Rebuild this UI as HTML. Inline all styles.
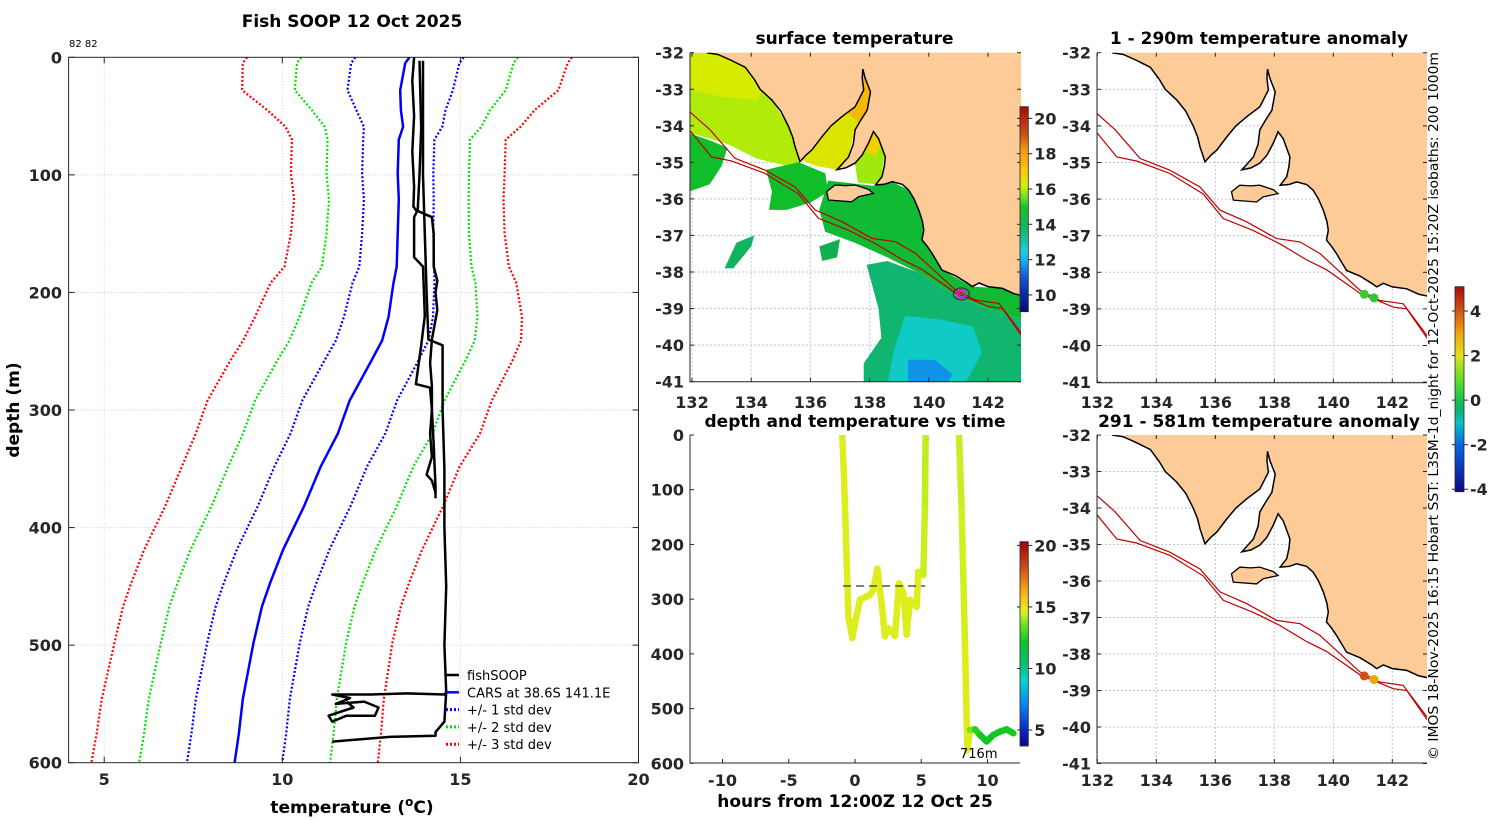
<!DOCTYPE html>
<html><head><meta charset="utf-8"><title>Fish SOOP 12 Oct 2025</title>
<style>
html,body{margin:0;padding:0;background:#fff;}
svg{display:block;}
text{font-family:"DejaVu Sans","Liberation Sans",sans-serif;}
.tk{font-weight:bold;font-size:16px;fill:#262626;}
.ttl{font-weight:bold;font-size:17px;fill:#000;}
.plain{font-weight:normal;fill:#000;}
</style></head>
<body>
<svg id="fig" xmlns="http://www.w3.org/2000/svg" width="1500" height="820" viewBox="0 0 1500 820">
<defs>
<clipPath id="clipProf"><rect x="68.6" y="57.3" width="569.9" height="705.4"/></clipPath>
<clipPath id="clipA"><rect x="690" y="52.7" width="331" height="329"/></clipPath>
<clipPath id="clipB"><rect x="1097" y="52.7" width="330" height="330"/></clipPath>
<clipPath id="clipC"><rect x="1097" y="435" width="330" height="328"/></clipPath>
<clipPath id="clipT"><rect x="690" y="435" width="330" height="328"/></clipPath>
</defs>
</svg>
<script>
// ---------- DATA ----------
const depths=[0,5,28,45,59,70,99,121,150,178,192,221,241,258,292,320,348,382,419,447,467,498,546,575,600];
const carsMean=[13.57,13.45,13.31,13.33,13.39,13.27,13.24,13.27,13.24,13.21,13.12,12.98,12.8,12.5,11.89,11.56,11.08,10.61,10.02,9.66,9.43,9.19,8.89,8.78,8.66];
const carsStd=[1.52,1.52,1.48,1.25,1.1,1.0,1.0,0.98,1.0,1.05,1.15,1.25,1.3,1.32,1.33,1.33,1.3,1.3,1.3,1.3,1.3,1.3,1.32,1.33,1.34];
const stdMultipliers=[1,2,3];
const fishCast1T=[13.7,13.65,13.7,13.65,13.7,13.68,13.75,14.2,14.25,14.25,14.35,14.3,14.35,14.2,14.15,14.2,14.2,14.15,14.2,14.05,14.2,14.3];
const fishCast1D=[0,20,50,80,110,127,130,136,150,178,190,200,215,240,260,280,300,320,340,355,360,370];
const fishCast2T=[13.85,13.9,13.85,13.8,13.7,13.7,13.95,14.0,13.9,13.75,14.15,14.2,14.25,14.3,14.3];
const fishCast2D=[3,60,100,130,136,170,178,220,245,278,281,300,330,365,375];
const fishCast3T=[13.95,13.95,14.0,14.05,14.1,14.5,14.5,14.55,14.55,14.55,14.6,14.55,14.6,14.55,13.5,12.5,11.4,11.9,11.5,12.3,12.7,12.6,11.8,11.4,11.3,12.0,11.8];
const fishCast3D=[3,100,150,200,240,245,300,350,375,400,450,500,540,542,541,542,542,545,550,548,553,560,560,565,560,553,548];
const fishCast4T=[14.6,14.55,14.3,14.3,13.0,11.4];
const fishCast4D=[540,565,574,577,578,582];
const tempTicks=[5,10,15,20];
const depthTicks=[0,100,200,300,400,500,600];

const trackHours=[-0.96,-0.83,-0.63,-0.5,-0.2,0,0.38,1.13,1.38,1.69,2.01,2.26,2.52,3.02,3.32,3.65,3.9,4.15,4.65,4.78,5.16,5.28,5.33];
const trackDepth=[2,76,228,332,371,344,301,292,283,244,308,368,353,367,271,289,365,301,314,250,256,125,2];
const trackTemp=[14.6,14.6,14.6,14.6,14.6,14.6,14.6,14.6,14.6,14.6,14.6,14.6,14.6,14.6,14.6,14.6,14.6,14.6,14.6,14.6,14.6,14.1,14.5];
const track2Hours=[7.85,8.05,8.3,8.48,8.68,9.06,9.43,9.94,10.44,10.94,11.45,11.95];
const track2Depth=[2,137,381,576,539,538,548,560,548,542,538,545];
const track2Temp=[14.5,14.2,14.7,14.7,14.4,13.0,12.4,12.2,12.3,12.3,12.3,12.4];
const hourTicks=[-10,-5,0,5,10];
const timeDepthTicks=[0,100,200,300,400,500,600];
const mldDepth=276;
const mldHours=[-0.9,5.3];

const lonTicks=[132,134,136,138,140,142];
const latTicks=[-32,-33,-34,-35,-36,-37,-38,-39,-40,-41];
const sstTicks=[10,12,14,16,18,20];
const timeCbTicks=[5,10,15,20];
const anomTicks=[-4,-2,0,2,4];

const coastLon=[132.5,132.88,133.3,133.8,134.12,134.3,134.69,135.0,135.25,135.4,135.48,135.65,135.85,136.05,136.39,136.7,137.06,137.51,137.8,137.75,137.77,137.85,138.03,137.92,137.7,137.51,137.45,137.29,136.9,137.2,137.51,137.75,137.96,138.13,138.3,138.53,138.5,138.42,138.2,138.5,138.76,139.1,139.32,139.5,139.66,139.78,139.83,139.77,139.95,140.11,140.3,140.45,140.9,141.3,141.47,141.7,142.0,142.49,142.9,143.2];
const coastLat=[-32.0,-32.05,-32.2,-32.4,-32.75,-33.0,-33.29,-33.6,-34.0,-34.3,-34.57,-34.98,-34.8,-34.66,-34.3,-34.0,-33.75,-33.48,-33.02,-32.7,-32.45,-32.7,-33.07,-33.57,-33.85,-34.11,-34.5,-34.85,-35.2,-35.15,-35.02,-34.8,-34.48,-34.16,-34.35,-34.85,-35.1,-35.39,-35.62,-35.6,-35.53,-35.6,-35.76,-36.0,-36.3,-36.6,-36.85,-37.12,-37.3,-37.49,-37.75,-37.95,-38.1,-38.3,-38.4,-38.3,-38.4,-38.45,-38.6,-38.65];
const islandLon=[136.55,136.83,137.2,137.51,137.96,138.13,137.62,137.4,136.61];
const islandLat=[-35.8,-35.62,-35.64,-35.62,-35.74,-35.85,-35.94,-36.08,-36.03];
const iso200Lon=[131.9,132.6,133.45,134.46,135.48,136.16,137.06,138.08,138.87,139.55,140.9,141.58,142.37,143.2];
const iso200Lat=[-33.6,-34.1,-34.89,-35.21,-35.67,-36.3,-36.62,-37.08,-37.17,-37.49,-38.49,-38.77,-38.86,-39.75];
const iso1000Lon=[131.9,132.66,133.33,134.46,135.59,136.27,137.29,138.19,139.1,139.77,140.9,142.03,142.49,143.2];
const iso1000Lat=[-34.1,-34.85,-34.96,-35.3,-35.86,-36.53,-36.86,-37.22,-37.66,-37.93,-38.57,-38.95,-39.0,-39.82];

const sstPatchTemps=[16.0,16.3,14.8,14.8,16.4,17.4,15.9,16.8,14.6,13.6,12.7,11.7,13.8,14.0];
const sstPatchLon=[
[131.9,132.88,133.3,133.8,134.12,134.69,135.25,135.48,135.65,135.2,134.2,133.2,132.4,131.9],
[131.9,132.88,133.8,134.4,134.2,133.0,131.9],
[131.9,132.6,133.2,133.0,132.6,131.9],
[134.5,135.6,136.5,136.6,136.0,135.2,134.6,134.7],
[135.6,136.4,137.1,137.5,137.77,138.0,137.9,137.5,137.3,136.9,136.2],
[137.2,137.51,137.8,137.77,138.03,137.92,137.6],
[137.5,137.96,138.13,138.5,138.4,138.2,137.6],
[137.8,137.96,138.13,138.4,138.2],
[136.6,138.2,138.76,139.32,139.66,139.83,140.11,140.45,141.47,142.49,143.2,143.2,142.0,140.8,139.6,138.6,137.5,136.5,136.3],
[137.9,138.6,139.6,140.8,142.0,143.2,143.2,137.8,137.8,138.4,138.3],
[139.2,140.4,141.5,141.8,141.2,138.6,138.8],
[139.3,140.2,140.8,140.6,139.3],
[133.5,134.1,134.0,133.4,133.1],
[136.3,137.0,136.9,136.4]];
const sstPatchLat=[
[-32.0,-32.0,-32.2,-32.4,-32.75,-33.29,-34.0,-34.57,-34.98,-35.1,-34.9,-34.5,-34.3,-34.2],
[-32.0,-32.0,-32.4,-33.0,-33.3,-33.2,-33.0],
[-34.2,-34.4,-34.6,-35.1,-35.6,-35.8],
[-35.2,-35.0,-35.3,-35.8,-36.1,-36.3,-36.3,-35.8],
[-34.9,-34.3,-33.7,-33.4,-32.5,-33.1,-33.6,-34.1,-34.8,-35.2,-35.1],
[-33.6,-33.48,-33.02,-32.45,-33.07,-33.57,-33.9],
[-35.0,-34.5,-34.16,-34.8,-35.4,-35.6,-35.55],
[-34.7,-34.48,-34.16,-34.5,-34.8],
[-35.5,-35.65,-35.53,-35.76,-36.3,-36.85,-37.49,-37.95,-38.4,-38.45,-38.65,-39.3,-39.0,-38.6,-38.0,-37.6,-37.2,-36.9,-36.3],
[-37.8,-37.7,-38.0,-38.6,-39.0,-39.3,-41.1,-41.1,-40.5,-39.8,-39.0],
[-39.2,-39.3,-39.5,-40.2,-41.1,-41.1,-40.2],
[-40.4,-40.4,-40.8,-41.1,-41.1],
[-37.2,-37.0,-37.3,-37.9,-37.9],
[-37.3,-37.1,-37.6,-37.7]];
const shipLon=141.1, shipLat=-38.6;
const anomLon=[141.05,141.38];
const anomLat=[-38.6,-38.7];
const anomShallow=[0.4,0.3];
const anomDeep=[4.0,2.9];

// ---------- HELPERS ----------
const NS='http://www.w3.org/2000/svg';
const svg=document.getElementById('fig');
function mk(tag,parent,attrs){const e=document.createElementNS(NS,tag);for(const k in attrs)e.setAttribute(k,attrs[k]);(parent||svg).appendChild(e);return e;}
function txt(parent,x,y,s,cls,extra){const e=mk('text',parent,Object.assign({x:x,y:y,class:cls},extra||{}));e.textContent=s;return e;}
function hex(c){return [parseInt(c.substr(1,2),16),parseInt(c.substr(3,2),16),parseInt(c.substr(5,2),16)];}
function cmap(stops,v){
  if(v<=stops[0][0])return stops[0][1];
  for(let i=1;i<stops.length;i++){if(v<=stops[i][0]){const a=stops[i-1],b=stops[i];const t=(v-a[0])/(b[0]-a[0]);const ca=hex(a[1]),cb=hex(b[1]);return 'rgb('+ca.map((q,j)=>Math.round(q+(cb[j]-q)*t)).join(',')+')';}}
  return stops[stops.length-1][1];
}
const sstStops=[[9,'#000070'],[10,'#0020a0'],[11,'#1050d0'],[12,'#10b0f0'],[12.5,'#10d0e0'],[13,'#10c0a0'],[14,'#10b050'],[15,'#10c020'],[15.5,'#60e020'],[16.2,'#d0f000'],[17,'#f8c800'],[18.3,'#f09010'],[19,'#c85010'],[20.7,'#a00000']];
const timeStops=[[3.7,'#000080'],[5,'#0020c0'],[7,'#0080f0'],[9,'#00d0d0'],[10,'#00c080'],[12,'#00c020'],[13.5,'#60e020'],[14.5,'#d8f020'],[15,'#f0e010'],[16.5,'#f0a010'],[18,'#d05010'],[20,'#a00000']];
const anomStops=[[-4.1,'#000080'],[-2,'#0060e0'],[-1,'#00c0c0'],[-0.5,'#00b070'],[0,'#10c040'],[1,'#60e020'],[2,'#e0e010'],[3,'#f0a000'],[4,'#d05010'],[5.1,'#a00000']];

// ---------- PROFILE PANEL ----------
const xT=T=>68.6+(T-4)*35.62;
const yD=d=>57.3+d*1.1757;
const prof=mk('g',svg,{});


tempTicks.forEach(t=>{if(t<20){const l=mk('line',prof,{x1:xT(t),x2:xT(t),y1:57.3,y2:762.7,stroke:'#e8c8d0','stroke-width':1,'stroke-dasharray':'1,2'});

}});
depthTicks.forEach(d=>{if(d>0&&d<600){const l=mk('line',prof,{x1:68.6,x2:638.5,y1:yD(d),y2:yD(d),stroke:'#c0c8f0','stroke-width':1,'stroke-dasharray':'1,2'});

}});
const pClip=mk('g',prof,{'clip-path':'url(#clipProf)'});
const stdColors=['#0000ff','#00e000','#ff0000'];
stdMultipliers.forEach((k,i)=>{[1,-1].forEach(s=>{
  const pts=depths.map((d,j)=>xT(carsMean[j]+s*k*carsStd[j]).toFixed(1)+','+yD(d).toFixed(1)).join(' ');
  const pl=mk('polyline',pClip,{points:pts,fill:'none',stroke:stdColors[i],'stroke-width':2.2,'stroke-dasharray':'2,2'});
  
  
});});
const meanLine=mk('polyline',pClip,{points:depths.map((d,j)=>xT(carsMean[j]).toFixed(1)+','+yD(d).toFixed(1)).join(' '),fill:'none',stroke:'#0000ff','stroke-width':2.5});


[[fishCast1T,fishCast1D],[fishCast2T,fishCast2D],[fishCast3T,fishCast3D],[fishCast4T,fishCast4D]].forEach((c,i)=>{
  const pl=mk('polyline',pClip,{points:c[0].map((t,j)=>xT(t).toFixed(1)+','+yD(c[1][j]).toFixed(1)).join(' '),fill:'none',stroke:'#000','stroke-width':2.5,'stroke-linejoin':'round'});
  
  
});
const pBox=mk('rect',prof,{x:68.6,y:57.3,width:569.9,height:705.4,fill:'none',stroke:'#262626','stroke-width':1});


tempTicks.forEach(t=>{
  if(t<20){mk('line',prof,{x1:xT(t),x2:xT(t),y1:762.7,y2:756.7,stroke:'#262626'});mk('line',prof,{x1:xT(t),x2:xT(t),y1:57.3,y2:63.3,stroke:'#262626'});}
  const e=txt(prof,xT(t),785,String(t),'tk',{'text-anchor':'middle'});
  
  
});
depthTicks.forEach(d=>{
  mk('line',prof,{x1:68.6,x2:74.6,y1:yD(d),y2:yD(d),stroke:'#262626'});mk('line',prof,{x1:632.5,x2:638.5,y1:yD(d),y2:yD(d),stroke:'#262626'});
  const e=txt(prof,62,yD(d)+6,String(d),'tk',{'text-anchor':'end'});
  
  
});
let e1=txt(prof,352,27,'Fish SOOP 12 Oct 2025','ttl',{'text-anchor':'middle'});


e1=txt(prof,69,47,'82 82','plain',{'font-size':'10px'});


e1=txt(prof,0,0,'depth (m)','ttl',{'text-anchor':'middle',transform:'translate(19,410) rotate(-90)'});


e1=mk('text',prof,{x:352,y:813,class:'ttl','text-anchor':'middle'});
e1.innerHTML='temperature (<tspan dy="-7" font-size="12">o</tspan><tspan dy="7">C)</tspan>';


// legend
const legend=mk('g',prof,{});


const legLabels=['fishSOOP','CARS at 38.6S 141.1E','+/- 1 std dev','+/- 2 std dev','+/- 3 std dev'];
const legColors=['#000','#0000ff','#0000ff','#00e000','#ff0000'];
legLabels.forEach((s,i)=>{
  const y=675+i*17.3;
  const l=mk('line',legend,{x1:446,x2:459,y1:y,y2:y,stroke:legColors[i],'stroke-width':i<2?2.5:3,'stroke-dasharray':i<2?'none':'2,2'});
  
  
  const t=txt(legend,467,y+5,s,'plain',{'font-size':'13px'});
  
  
});

// ---------- MAPS ----------
function drawMap(name,ox,oy,sx,sy,clip,x0,y0,w,h,opts){
  const g=mk('g',svg,{});
  
  
  const px=lon=>ox+(lon-132)*sx, py=lat=>oy+(-32-lat)*sy;
  const c=mk('g',g,{'clip-path':'url(#'+clip+')'});
  lonTicks.forEach(l=>{mk('line',c,{x1:px(l),x2:px(l),y1:y0,y2:y0+h,stroke:'#c0c4e8','stroke-dasharray':'2,2'});});
  latTicks.forEach(l=>{mk('line',c,{x1:x0,x2:x0+w,y1:py(l),y2:py(l),stroke:'#c0c4e8','stroke-dasharray':'2,2'});});
  if(opts.sst){
    sstPatchTemps.forEach((t,i)=>{
      const p=mk('polygon',c,{points:sstPatchLon[i].map((lo,j)=>px(lo).toFixed(1)+','+py(sstPatchLat[i][j]).toFixed(1)).join(' '),fill:cmap(sstStops,t)});
      
      
    });
  }
  const landPts=coastLon.map((lo,j)=>px(lo).toFixed(1)+','+py(coastLat[j]).toFixed(1));
  landPts.push(px(143.3)+','+py(-38.65),px(143.3)+','+py(-31.9),px(132.5)+','+py(-31.9));
  const land=mk('polygon',c,{points:landPts.join(' '),fill:'#fccb98'});
  
  
  const isl=mk('polygon',c,{points:islandLon.map((lo,j)=>px(lo).toFixed(1)+','+py(islandLat[j]).toFixed(1)).join(' '),fill:'#fccb98',stroke:'#000','stroke-width':1.3});
  
  
  const cl=mk('polyline',c,{points:coastLon.map((lo,j)=>px(lo).toFixed(1)+','+py(coastLat[j]).toFixed(1)).join(' '),fill:'none',stroke:'#000','stroke-width':1.5});
  
  
  [[iso200Lon,iso200Lat],[iso1000Lon,iso1000Lat]].forEach((iso,k)=>{
    const pl=mk('polyline',c,{points:iso[0].map((lo,j)=>px(lo).toFixed(1)+','+py(iso[1][j]).toFixed(1)).join(' '),fill:'none',stroke:'#c00000','stroke-width':1.2});
    
    
  });
  if(opts.sst){
    const sh=mk('ellipse',c,{cx:px(shipLon),cy:py(shipLat),rx:8,ry:6,fill:'none',stroke:'#333','stroke-width':1.2});
    
    
    const m=mk('circle',c,{cx:px(shipLon),cy:py(shipLat),r:4,fill:'none',stroke:'#ff00ff','stroke-width':2});
    
    
  }
  if(opts.anom){
    opts.anom.forEach((v,i)=>{
      const d=mk('circle',c,{cx:px(anomLon[i]),cy:py(anomLat[i]),r:4.5,fill:cmap(anomStops,v)});
      
      
    });
  }
  const bx=mk('path',g,{d:'M'+x0+','+y0+' V'+(y0+h)+' H'+(x0+w),fill:'none',stroke:'#262626','stroke-width':1});
  
  
  lonTicks.forEach(l=>{
    mk('line',g,{x1:px(l),x2:px(l),y1:y0+h,y2:y0+h-4,stroke:'#262626'});
    mk('line',g,{x1:px(l),x2:px(l),y1:y0,y2:y0+4,stroke:'#262626'});
    const t=txt(g,px(l),opts.ly,String(l),'tk',{'text-anchor':'middle'});
    
    
  });
  latTicks.forEach(l=>{
    mk('line',g,{x1:x0,x2:x0+4,y1:py(l),y2:py(l),stroke:'#262626'});
    mk('line',g,{x1:x0+w,x2:x0+w-4,y1:py(l),y2:py(l),stroke:'#262626'});
    const t=txt(g,x0-6,py(l)+6,String(l),'tk',{'text-anchor':'end'});
    
    
  });
  const tt=txt(g,x0+w/2+opts.tdx,opts.ty,opts.title,'ttl',{'text-anchor':'middle'});
  
  
  return g;
}
drawMap('sst-map',692,52.7,29.6,36.55,'clipA',690,52.7,331,329,{sst:true,ly:408,ty:44,title:'surface temperature',tdx:-1});
drawMap('anomaly-map-shallow',1097.3,52.7,29.5,36.6,'clipB',1097,52.7,330,330,{anom:anomShallow,ly:408,ty:44,title:'1 - 290m temperature anomaly',tdx:-3});
drawMap('anomaly-map-deep',1097.3,435,29.5,36.5,'clipC',1097,435,330,328,{anom:anomDeep,ly:786,ty:427,title:'291 - 581m temperature anomaly',tdx:-3});

// ---------- COLORBARS ----------
function colorbar(name,x,yTop,yBot,w,vTop,vBot,stops,ticks){
  const g=mk('g',svg,{});
  
  
  const n=Math.round(yBot-yTop);
  for(let i=0;i<n;i++){const v=vTop+(vBot-vTop)*(i+0.5)/n;mk('rect',g,{x:x,y:yTop+i,width:w,height:1.2,fill:cmap(stops,v)});}
  mk('rect',g,{x:x,y:yTop,width:w,height:yBot-yTop,fill:'none',stroke:'#262626','stroke-width':0.8});
  ticks.forEach(t=>{const y=yTop+(t-vTop)/(vBot-vTop)*(yBot-yTop);
    mk('line',g,{x1:x+w,x2:x+w+4,y1:y,y2:y,stroke:'#262626'});mk('line',g,{x1:x,x2:x-3,y1:y,y2:y,stroke:'#262626'});
    const l=txt(g,x+w+6,y+6,String(t),'tk',{'font-size':'15px'});
    
    });
}
colorbar('sst-colorbar',1020,106.7,311.7,8.3,20.66,9.05,sstStops,sstTicks);
colorbar('time-colorbar',1020,541.7,746,8.3,20.3,3.7,timeStops,timeCbTicks);
colorbar('anomaly-colorbar',1455,286.7,491.7,9,5.09,-4.11,anomStops,anomTicks);

// ---------- TIME PANEL ----------
const xH=h=>855+h*13.25;
const yT=d=>435+d*0.5472;
const tp=mk('g',svg,{});


const tc=mk('g',tp,{'clip-path':'url(#clipT)'});
[[trackHours,trackDepth,trackTemp],[track2Hours,track2Depth,track2Temp]].forEach((tr,k)=>{
  for(let i=0;i<tr[0].length-1;i++){
    const s=mk('line',tc,{x1:xH(tr[0][i]),y1:yT(tr[1][i]),x2:xH(tr[0][i+1]),y2:yT(tr[1][i+1]),stroke:cmap(timeStops,(tr[2][i]+tr[2][i+1])/2),'stroke-width':6.5,'stroke-linecap':'round'});
    
    
  }
});
const mld=mk('line',tc,{x1:xH(mldHours[0]),x2:xH(mldHours[1]),y1:yT(mldDepth),y2:yT(mldDepth),stroke:'#333','stroke-width':1.2,'stroke-dasharray':'8,5'});


const tb=mk('path',tp,{d:'M690,435 V763 H1020',fill:'none',stroke:'#262626'});


hourTicks.forEach(h=>{mk('line',tp,{x1:xH(h),x2:xH(h),y1:763,y2:759,stroke:'#262626'});
  const t=txt(tp,xH(h),786,String(h),'tk',{'text-anchor':'middle'});
  
  });
timeDepthTicks.forEach(d=>{mk('line',tp,{x1:690,x2:694,y1:yT(d),y2:yT(d),stroke:'#262626'});
  const t=txt(tp,684,yT(d)+6,String(d),'tk',{'text-anchor':'end'});
  
  });
e1=txt(tp,855,427,'depth and temperature vs time','ttl',{'text-anchor':'middle'});


e1=txt(tp,855,807,'hours from 12:00Z 12 Oct 25','ttl',{'text-anchor':'middle'});


e1=txt(tp,960,758,'716m','plain',{'font-size':'13px'});



// ---------- CREDIT ----------
e1=txt(svg,0,0,'© IMOS 18-Nov-2025 16:15 Hobart SST: L3SM-1d_night for 12-Oct-2025 15:20Z isobaths: 200  1000m','plain',{'font-size':'13px',transform:'translate(1438,760) rotate(-90)',textLength:708,lengthAdjust:'spacingAndGlyphs'});


</script>
</body></html>
